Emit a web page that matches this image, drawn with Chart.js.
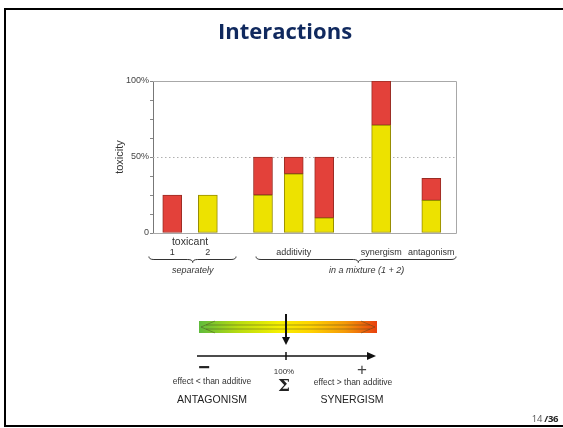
<!DOCTYPE html>
<html>
<head>
<meta charset="utf-8">
<script src="https://cdn.jsdelivr.net/npm/chart.js@4"></script>
<style>
  html, body { margin: 0; padding: 0; background: #fff; }
  body { width: 563px; height: 428px; position: relative; overflow: hidden; font-family: "Liberation Sans", Arial, sans-serif; }
  #frame { position: absolute; left: 4px; top: 8px; width: 640px; height: 415px; border: 2px solid #000; }
  #chartCanvas, #diagram { position: absolute; left: 0; top: 0; }
  .t { position: absolute; transform: translate(-50%, -50%); white-space: nowrap; line-height: 1; color: #333; }
  #title { font-family: "Open Sans", sans-serif; font-weight: 700; font-size: 22px; color: #10295e; }
  #page { font-family: "Open Sans", sans-serif; font-size: 9.5px; color: #555; letter-spacing: -0.3px; }
  #page b { color: #222; }
</style>
</head>
<body>
<div id="frame"></div>
<canvas id="chartCanvas" width="563" height="428"></canvas>

<svg id="diagram" width="563" height="428">
  <defs>
    <linearGradient id="grad" x1="0" x2="1" y1="0" y2="0">
      <stop offset="0" stop-color="#5fbb3c"/>
      <stop offset="0.22" stop-color="#b8dc10"/>
      <stop offset="0.45" stop-color="#f6f000"/>
      <stop offset="0.62" stop-color="#ffd400"/>
      <stop offset="0.82" stop-color="#f59a08"/>
      <stop offset="1" stop-color="#e8400e"/>
    </linearGradient>
  </defs>
  <!-- gradient bar with double arrow outline -->
  <rect x="199" y="321" width="178" height="12" fill="url(#grad)"/>
  <g stroke="rgba(70,70,30,0.45)" stroke-width="1" fill="none">
    <polyline points="215,321 201,327 215,333"/>
    <polyline points="361,321 375,327 361,333"/>
    <line x1="206" y1="325" x2="370" y2="325"/>
    <line x1="206" y1="329" x2="370" y2="329"/>
  </g>
  <!-- vertical arrow -->
  <line x1="286" y1="314" x2="286" y2="338" stroke="#111" stroke-width="2"/>
  <polygon points="282,337 290,337 286,345" fill="#111"/>
  <!-- horizontal axis arrow -->
  <line x1="197" y1="356" x2="369" y2="356" stroke="#111" stroke-width="1.5"/>
  <polygon points="367,352 367,360 376,356" fill="#111"/>
  <line x1="286" y1="352" x2="286" y2="360" stroke="#111" stroke-width="1.5"/>
</svg>

<div class="t" id="title" style="left:285px; top:30px;">Interactions</div>

<div class="t" style="left:204px; top:367px; font-size:20px; font-weight:bold; color:#222;">−</div>
<div class="t" style="left:362px; top:369px; font-size:17px; color:#444;">+</div>
<div class="t" style="left:212px; top:381px; font-size:8.5px;">effect &lt; than additive</div>
<div class="t" style="left:284px; top:372px; font-size:8px;">100%</div>
<div class="t" style="left:284px; top:385px; font-size:17px; font-family:'DejaVu Serif', serif; font-weight:bold; color:#222;">Σ</div>
<div class="t" style="left:353px; top:382px; font-size:8.5px;">effect &gt; than additive</div>
<div class="t" style="left:212px; top:399px; font-size:10.5px; color:#222;">ANTAGONISM</div>
<div class="t" style="left:352px; top:399px; font-size:10.5px; color:#222;">SYNERGISM</div>

<div class="t" id="page" style="left:545px; top:419px;">14 <b>/36</b></div>

<script>
// ---------------- Data ----------------
const barNames = ["toxicant 1", "toxicant 2", "additivity a", "additivity b", "additivity c", "synergism", "antagonism"];
const barPositions = [1.27, 3.62, 7.26, 9.29, 11.3, 15.06, 18.37];
const toxicant2Share = [null, 25, 25, 39, 10, 71, 21.5]; // yellow, bottom
const toxicant1Share = [25, null, 25, 11, 40, 29, 14.5]; // red, on top
const yTickValues = [0, 50, 100];
const yTickTexts = ["0", "50%", "100%"];
const groupLabels = ["1", "2", "additivity", "synergism", "antagonism"];
const groupLabelBars = [0, 1, 3, 5, 6];

const FONT = '"Liberation Sans", Arial, sans-serif';

const toPoints = (vals) => barPositions.map((x, i) => ({ x, y: vals[i] }));

// ---------------- Plugins ----------------
const plotFrame = {
  id: "plotFrame",
  beforeDatasetsDraw(chart) {
    const { ctx, chartArea: a, scales } = chart;
    const y50 = scales.y.getPixelForValue(50);
    ctx.save();
    ctx.strokeStyle = "#b0b0b0";
    ctx.lineWidth = 1;
    ctx.setLineDash([1.5, 2.5]);
    ctx.beginPath();
    ctx.moveTo(a.left, Math.round(y50) + 0.5);
    ctx.lineTo(a.right, Math.round(y50) + 0.5);
    ctx.stroke();
    ctx.setLineDash([]);
    ctx.strokeStyle = "#a8a8a8";
    ctx.beginPath();
    ctx.moveTo(a.left, Math.round(a.top) + 0.5);
    ctx.lineTo(Math.round(a.right) + 0.5, Math.round(a.top) + 0.5);
    ctx.lineTo(Math.round(a.right) + 0.5, Math.round(a.bottom) + 0.5);
    ctx.lineTo(a.left, Math.round(a.bottom) + 0.5);
    ctx.stroke();
    ctx.restore();
  },
};

function brace(ctx, x0, x1, tip, y) {
  ctx.beginPath();
  ctx.moveTo(x0, y - 3);
  ctx.quadraticCurveTo(x0, y, x0 + 5, y);
  ctx.lineTo(tip - 5, y);
  ctx.quadraticCurveTo(tip, y, tip, y + 3);
  ctx.quadraticCurveTo(tip, y, tip + 5, y);
  ctx.lineTo(x1 - 5, y);
  ctx.quadraticCurveTo(x1, y, x1, y - 3);
  ctx.stroke();
}

const groupText = {
  id: "groupText",
  afterDraw(chart) {
    const { ctx, scales } = chart;
    const xs = scales.x;
    const px = (v) => xs.getPixelForValue(v);
    ctx.save();
    ctx.fillStyle = "#333";
    ctx.textAlign = "center";
    ctx.textBaseline = "middle";

    ctx.font = "10.5px " + FONT;
    ctx.fillText("toxicant", (px(barPositions[0]) + px(barPositions[1])) / 2, 242);

    ctx.font = "9px " + FONT;
    groupLabels.forEach((lbl, i) => {
      ctx.fillText(lbl, px(barPositions[groupLabelBars[i]]), 252.5);
    });

    ctx.strokeStyle = "#333";
    ctx.lineWidth = 1;
    brace(ctx, px(-0.27), px(5.48), px(2.62), 259.5);
    brace(ctx, px(6.8), px(20), px(13.55), 259.5);

    ctx.font = "italic 9px " + FONT;
    ctx.fillText("separately", px(2.62), 270.5);
    ctx.fillText("in a mixture (1 + 2)", px(14.1), 270.5);
    ctx.restore();
  },
};

// ---------------- Chart ----------------
const ctx = document.getElementById("chartCanvas").getContext("2d");

new Chart(ctx, {
  type: "bar",
  data: {
    datasets: [
      {
        label: "toxicant 2",
        data: toPoints(toxicant2Share),
        backgroundColor: "#ede200",
        borderColor: "#968c00",
        borderWidth: 1,
        borderSkipped: false,
        barThickness: 19,
      },
      {
        label: "toxicant 1",
        data: toPoints(toxicant1Share),
        backgroundColor: "#e3413a",
        borderColor: "#9a2c24",
        borderWidth: 1,
        borderSkipped: false,
        barThickness: 19,
      },
    ],
  },
  options: {
    responsive: false,
    animation: false,
    devicePixelRatio: 1,
    layout: { padding: { left: 113, top: 81, right: 107, bottom: 195 } },
    plugins: { legend: { display: false }, tooltip: { enabled: false } },
    scales: {
      x: { type: "linear", min: 0, max: 20, offset: false, stacked: true, display: false },
      y: {
        min: 0,
        max: 100,
        stacked: true,
        afterFit: (s) => { s.width = 40; },
        ticks: {
          stepSize: 12.5,
          autoSkip: false,
          padding: 1,
          color: "#444",
          font: { family: FONT, size: 9 },
          callback: (v) => {
            const i = yTickValues.indexOf(v);
            return i >= 0 ? yTickTexts[i] : "";
          },
        },
        grid: { drawOnChartArea: false, tickLength: 3, color: "#888" },
        border: { color: "#777" },
        title: {
          display: true,
          text: "toxicity",
          color: "#333",
          padding: 0,
          font: { family: FONT, size: 11 },
        },
      },
    },
  },
  plugins: [plotFrame, groupText],
});
</script>
</body>
</html>
